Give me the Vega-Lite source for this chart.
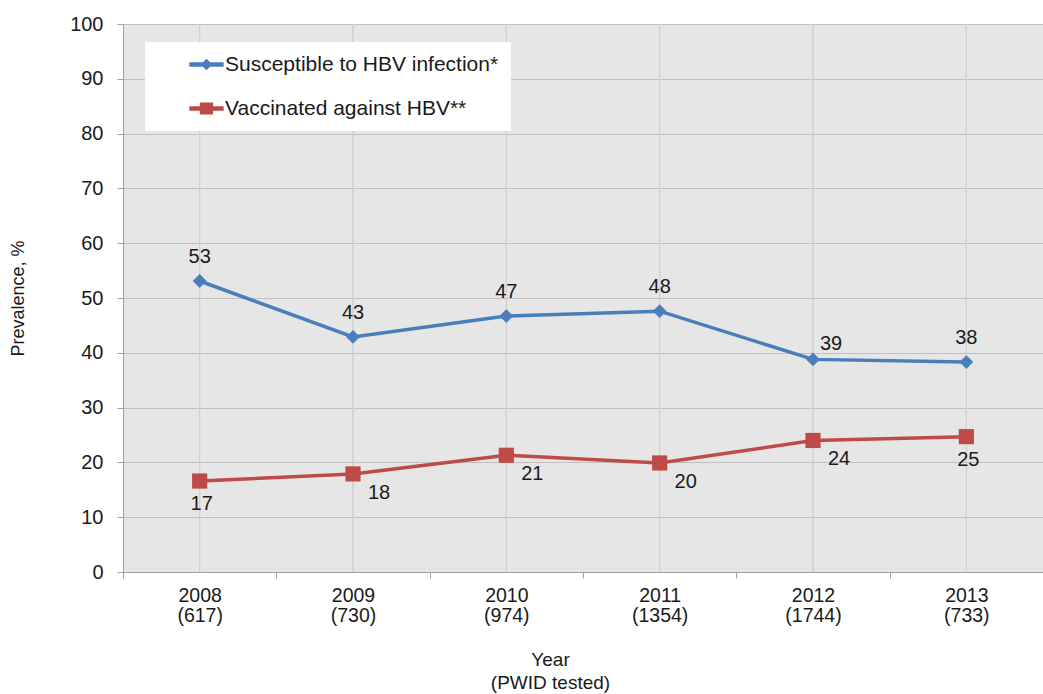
{
  "$schema": "https://vega.github.io/schema/vega-lite/v6.json",
  "width": 920,
  "height": 548,
  "autosize": {"type": "none"},
  "padding": {"left": 123, "top": 24, "right": 0, "bottom": 122},
  "background": "white",
  "config": {
    "font": "Liberation Sans",
    "view": {"fill": "#e6e6e6", "stroke": null},
    "axis": {
      "labelFont": "Liberation Sans",
      "titleFont": "Liberation Sans",
      "labelColor": "#1a1a1a",
      "titleColor": "#1a1a1a",
      "titleFontWeight": "normal",
      "domainColor": "#a0a0a0",
      "tickColor": "#a0a0a0",
      "gridColor": "#c0c0c0"
    }
  },
  "data": {
    "values": [
      {"year": "2008", "x": "2008|(617)", "series": "Susceptible to HBV infection*", "value": 53.1},
      {"year": "2009", "x": "2009|(730)", "series": "Susceptible to HBV infection*", "value": 42.9},
      {"year": "2010", "x": "2010|(974)", "series": "Susceptible to HBV infection*", "value": 46.7},
      {"year": "2011", "x": "2011|(1354)", "series": "Susceptible to HBV infection*", "value": 47.6},
      {"year": "2012", "x": "2012|(1744)", "series": "Susceptible to HBV infection*", "value": 38.8},
      {"year": "2013", "x": "2013|(733)", "series": "Susceptible to HBV infection*", "value": 38.3},
      {"year": "2008", "x": "2008|(617)", "series": "Vaccinated against HBV**", "value": 16.6},
      {"year": "2009", "x": "2009|(730)", "series": "Vaccinated against HBV**", "value": 17.9},
      {"year": "2010", "x": "2010|(974)", "series": "Vaccinated against HBV**", "value": 21.3},
      {"year": "2011", "x": "2011|(1354)", "series": "Vaccinated against HBV**", "value": 19.9},
      {"year": "2012", "x": "2012|(1744)", "series": "Vaccinated against HBV**", "value": 24.0},
      {"year": "2013", "x": "2013|(733)", "series": "Vaccinated against HBV**", "value": 24.7}
    ]
  },
  "encoding": {
    "x": {
      "field": "x",
      "type": "nominal",
      "sort": null,
      "scale": {"type": "band", "paddingInner": 0, "paddingOuter": 0},
      "axis": {
        "title": ["Year", "(PWID tested)"],
        "titleFontSize": 19,
        "titleLineHeight": 23,
        "titleX": 427,
        "titleY": 78,
        "titleAlign": "center",
        "titleBaseline": "top",
        "labelExpr": "split(datum.label, '|')",
        "labelAngle": 0,
        "labelFontSize": 19.5,
        "labelLineHeight": 20,
        "labelPadding": 8,
        "tickBand": "extent",
        "tickSize": 6,
        "grid": false
      }
    }
  },
  "layer": [
    {
      "mark": {"type": "rule", "color": "#d0d0d0", "strokeWidth": 1},
      "encoding": {}
    },
    {
      "mark": {"type": "line", "strokeWidth": 3.5},
      "encoding": {
        "y": {
          "field": "value",
          "type": "quantitative",
          "scale": {"domain": [0, 100], "nice": false},
          "axis": {
            "title": "Prevalence, %",
            "titleFontSize": 18,
            "titleX": -105,
            "titleY": 274,
            "titleAngle": -90,
            "titleAlign": "center",
            "titleBaseline": "middle",
            "tickCount": 10,
            "labelFontSize": 20,
            "labelPadding": 14,
            "tickSize": 6,
            "grid": true
          }
        },
        "color": {
          "field": "series",
          "type": "nominal",
          "scale": {"domain": ["Susceptible to HBV infection*", "Vaccinated against HBV**"], "range": ["#4a7ebb", "#be4b48"]},
          "legend": {
            "title": null,
            "orient": "none",
            "legendX": 22,
            "legendY": 18,
            "fillColor": "white",
            "padding": 12,
            "rowPadding": 22,
            "symbolSize": 300,
            "symbolOpacity": 1,
            "symbolOffset": 39,
            "labelOffset": 8,
            "labelFontSize": 21,
            "labelFont": "Liberation Sans",
            "labelColor": "#1a1a1a",
            "labelLimit": 400,
            "encode": {
              "legend": {"width": {"value": 381}}
            }
          }
        }
      }
    },
    {
      "mark": {"type": "point", "filled": true, "opacity": 0},
      "encoding": {
        "y": {"field": "value", "type": "quantitative"},
        "color": {"field": "series", "type": "nominal"},
        "shape": {
          "field": "series",
          "type": "nominal",
          "scale": {"domain": ["Susceptible to HBV infection*", "Vaccinated against HBV**"], "range": ["M-1.9,-0.18H1.9V0.18H-1.9ZM0,-0.55L0.55,0L0,0.55L-0.55,0Z", "M-1.9,-0.18H1.9V0.18H-1.9ZM-0.68,-0.62H0.68V0.62H-0.68Z"]}
        }
      }
    },
    {
      "transform": [{"filter": "datum.series === 'Susceptible to HBV infection*'"}],
      "mark": {"type": "point", "filled": true, "opacity": 1, "shape": "diamond", "size": 190},
      "encoding": {
        "y": {"field": "value", "type": "quantitative"},
        "color": {"field": "series", "type": "nominal"}
      }
    },
    {
      "transform": [{"filter": "datum.series === 'Vaccinated against HBV**'"}],
      "mark": {"type": "point", "filled": true, "opacity": 1, "shape": "square", "size": 230},
      "encoding": {
        "y": {"field": "value", "type": "quantitative"},
        "color": {"field": "series", "type": "nominal"}
      }
    },
    {
      "transform": [{"filter": "datum.series === 'Susceptible to HBV infection*' && datum.year !== '2012'"}],
      "mark": {"type": "text", "dy": -24, "fontSize": 20, "color": "#1a1a1a"},
      "encoding": {
        "y": {"field": "value", "type": "quantitative"},
        "text": {"field": "value", "type": "quantitative", "format": ".0f"}
      }
    },
    {
      "transform": [{"filter": "datum.series === 'Susceptible to HBV infection*' && datum.year === '2012'"}],
      "mark": {"type": "text", "dx": 18, "dy": -15, "fontSize": 20, "color": "#1a1a1a"},
      "encoding": {
        "y": {"field": "value", "type": "quantitative"},
        "text": {"field": "value", "type": "quantitative", "format": ".0f"}
      }
    },
    {
      "transform": [{"filter": "datum.series === 'Vaccinated against HBV**' && (datum.year === '2008' || datum.year === '2013')"}],
      "mark": {"type": "text", "dx": 2, "dy": 23, "fontSize": 20, "color": "#1a1a1a"},
      "encoding": {
        "y": {"field": "value", "type": "quantitative"},
        "text": {"field": "value", "type": "quantitative", "format": ".0f"}
      }
    },
    {
      "transform": [{"filter": "datum.series === 'Vaccinated against HBV**' && datum.year !== '2008' && datum.year !== '2013'"}],
      "mark": {"type": "text", "dx": 26, "dy": 19, "fontSize": 20, "color": "#1a1a1a"},
      "encoding": {
        "y": {"field": "value", "type": "quantitative"},
        "text": {"field": "value", "type": "quantitative", "format": ".0f"}
      }
    }
  ]
}
